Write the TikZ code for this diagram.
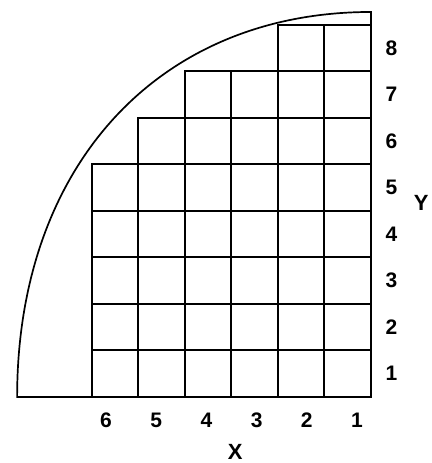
\documentclass[tikz,border=0pt]{standalone}
\usepackage{fontspec}
\setmainfont{Liberation Sans}
\usepackage{tikz}
\usetikzlibrary{calc}
\tikzset{
  cell/.style={draw=black, line width=2pt},
  rim/.style={draw=black, line width=1.7pt, line join=miter},
  numlbl/.style={font=\fontsize{21}{23}\selectfont\bfseries, inner sep=0pt},
  axislbl/.style={font=\fontsize{22}{24}\selectfont\bfseries, inner sep=0pt},
}
\begin{document}
\begin{tikzpicture}[x=46.5pt, y=46.5pt]
    \useasboundingbox (-7.9785,-1.4194) rectangle (1.3118,8.5376);
    %% outline: quarter curve, base and right side
    \coordinate (O) at (0,0);
    \coordinate (arcL) at (-7.61,0);
    \coordinate (arcT) at (0,8.28);
    \draw[rim] (arcL) .. controls ($(arcL)+(0,4.97)$) and ($(arcT)+(-4.57,0)$) .. (arcT)
      -- (O) -- cycle;
    %% stepped grid of cells (row / number of cells)
    \foreach \r/\n in {1/6,2/6,3/6,4/6,5/6,6/5,7/4,8/2}{
      \foreach \c in {1,...,\n}{
        \draw[cell] (-\c,\r-1) rectangle ++(1,1);
      }
    }
    %% row numbers
    \foreach \r in {1,...,8}{
      \node[numlbl] (y\r) at (0.44,\r-0.5) {\r};
    }
    %% column numbers
    \foreach \c in {1,...,6}{
      \node[numlbl] (x\c) at ({-0.3-(\c-1)*1.08},-0.5) {\c};
    }
    %% axis names
    \node[axislbl] (X) at (-2.92,-1.18) {X};
    \node[axislbl] (Y) at (1.08,4.17) {Y};
  \end{tikzpicture}
\end{document}
